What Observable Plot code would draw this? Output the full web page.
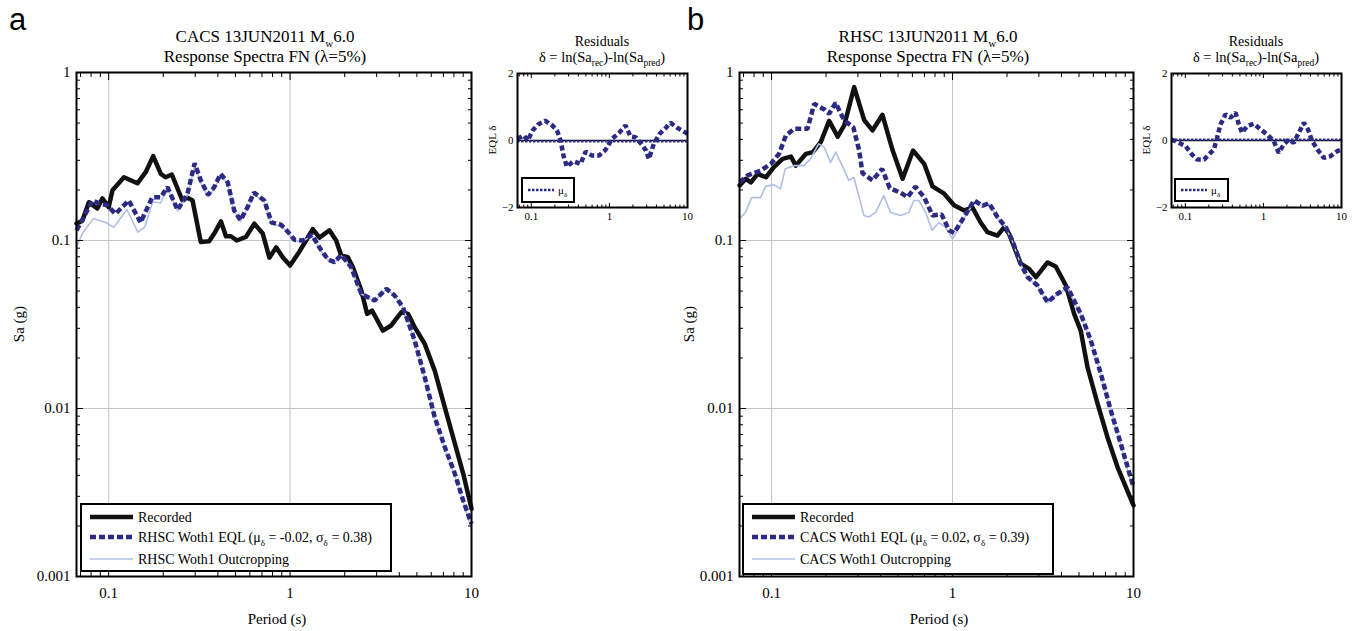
<!DOCTYPE html>
<html><head><meta charset="utf-8">
<script src="https://cdn.jsdelivr.net/npm/d3@7"></script>
<script src="https://cdn.jsdelivr.net/npm/@observablehq/plot@0.6"></script>
<style>
body{margin:0;background:#fff;}
#chart{position:relative;width:1359px;height:631px;overflow:hidden;font-family:"Liberation Serif",serif;}
#chart > svg{position:absolute;overflow:visible;}
</style></head><body><div id="chart"></div>
<script>
// ---------- ticks ----------
const xMajorTicks = [0.1, 1, 10];
const xMinorTicks = [0.07,0.08,0.09,0.2,0.3,0.4,0.5,0.6,0.7,0.8,0.9,2,3,4,5,6,7,8,9];
const yMajorTicks = [0.001, 0.01, 0.1, 1];
const yMinorTicks = [0.002,0.003,0.004,0.005,0.006,0.007,0.008,0.009,0.02,0.03,0.04,0.05,0.06,0.07,0.08,0.09,0.2,0.3,0.4,0.5,0.6,0.7,0.8,0.9];
const resYTicks = [-2, 0, 2];

// ---------- panel a : CACS ----------
const aRecT  = [0.0665,0.0716,0.0778,0.0866,0.0923,0.100,0.105,0.1215,0.144,0.160,0.176,0.194,0.206,0.223,0.255,0.272,0.290,0.322,0.358,0.382,0.416,0.443,0.472,0.509,0.571,0.635,0.707,0.769,0.838,0.911,1.0,1.103,1.225,1.334,1.452,1.648,1.795,1.914,2.08,2.22,2.47,2.66,2.83,3.25,3.61,4.10,4.47,4.86,5.52,6.27,7.12,8.09,9.0,10.0];
const aRecSa = [0.126,0.131,0.169,0.155,0.178,0.158,0.199,0.238,0.219,0.255,0.318,0.249,0.238,0.247,0.173,0.180,0.173,0.098,0.099,0.110,0.130,0.106,0.106,0.100,0.105,0.126,0.110,0.079,0.091,0.0796,0.071,0.083,0.100,0.117,0.104,0.115,0.100,0.0814,0.0796,0.0694,0.0504,0.0366,0.0383,0.0291,0.0312,0.0374,0.0366,0.0305,0.0243,0.0168,0.0102,0.0062,0.0041,0.00253];
const aEqlT  = [0.0665,0.073,0.0813,0.0903,0.0985,0.109,0.129,0.150,0.174,0.194,0.211,0.240,0.272,0.298,0.322,0.353,0.382,0.414,0.453,0.492,0.533,0.583,0.632,0.721,0.790,0.892,0.971,1.057,1.175,1.320,1.46,1.62,1.757,1.914,2.17,2.47,2.92,3.39,3.77,4.19,4.86,5.52,6.27,7.12,8.09,9.0,10.0];
const aEqlSa = [0.115,0.138,0.173,0.165,0.162,0.144,0.173,0.128,0.181,0.181,0.208,0.152,0.190,0.288,0.228,0.187,0.208,0.249,0.222,0.151,0.132,0.158,0.193,0.173,0.128,0.124,0.113,0.101,0.100,0.108,0.090,0.077,0.0743,0.082,0.0694,0.0482,0.0439,0.0516,0.0471,0.0401,0.0254,0.0154,0.00888,0.0059,0.0041,0.00283,0.00206];
const aOutT  = [0.0665,0.0716,0.0823,0.0962,0.107,0.126,0.145,0.158,0.175,0.193,0.211,0.240,0.272,0.298,0.322,0.353,0.382,0.414,0.453,0.492,0.533,0.583,0.632,0.721,0.790,0.892,0.971,1.057,1.175,1.320,1.46,1.62,1.757,1.914,2.17,2.47,2.92,3.39,3.77,4.19,4.86,5.52,6.27,7.12,8.09,9.0,10.0];
const aOutSa = [0.091,0.110,0.135,0.128,0.120,0.153,0.112,0.120,0.170,0.167,0.205,0.150,0.186,0.280,0.222,0.181,0.203,0.243,0.218,0.149,0.130,0.155,0.189,0.170,0.126,0.122,0.111,0.099,0.099,0.107,0.089,0.076,0.0738,0.081,0.069,0.048,0.0436,0.0513,0.047,0.040,0.0253,0.0153,0.0088,0.0058,0.0040,0.0028,0.0019];
const aResT  = [0.0665,0.080,0.090,0.104,0.122,0.150,0.185,0.213,0.237,0.258,0.285,0.345,0.427,0.497,0.600,0.735,0.890,1.08,1.32,1.61,1.86,2.16,2.55,2.95,3.2,3.7,4.4,5.3,6.05,7.4,9.2,10.0];
const aResV  = [0.05,0.15,0.0,0.3,0.48,0.59,0.45,0.3,0.0,-0.45,-0.78,-0.62,-0.7,-0.33,-0.45,-0.45,-0.28,0.05,0.22,0.45,0.12,0.1,-0.1,-0.3,-0.55,-0.1,0.2,0.38,0.53,0.38,0.25,0.2];
const aMu = -0.02;

// ---------- panel b : RHSC ----------
const bRecT  = [0.0666,0.0721,0.0769,0.0838,0.0931,0.103,0.115,0.128,0.136,0.155,0.169,0.187,0.208,0.232,0.252,0.286,0.325,0.361,0.410,0.467,0.530,0.605,0.697,0.775,0.899,1.02,1.159,1.29,1.43,1.56,1.77,1.93,2.05,2.38,2.65,2.89,3.35,3.72,4.23,4.70,5.11,5.57,6.33,7.18,8.16,10.0];
const bRecSa = [0.213,0.233,0.222,0.249,0.238,0.273,0.306,0.316,0.279,0.328,0.336,0.385,0.515,0.415,0.484,0.818,0.520,0.452,0.560,0.343,0.233,0.343,0.286,0.210,0.190,0.162,0.151,0.157,0.128,0.112,0.107,0.120,0.110,0.0727,0.0678,0.0605,0.0740,0.0700,0.0540,0.0366,0.0291,0.0176,0.0107,0.00675,0.00448,0.00265];
const bEqlT  = [0.0666,0.0737,0.0873,0.099,0.110,0.120,0.133,0.158,0.172,0.197,0.208,0.226,0.252,0.283,0.305,0.318,0.361,0.408,0.450,0.518,0.564,0.624,0.697,0.775,0.870,0.957,1.02,1.159,1.316,1.465,1.59,1.77,1.97,2.14,2.38,2.60,2.95,3.35,3.80,4.32,5.11,5.81,6.60,7.49,8.51,10.0];
const bEqlSa = [0.222,0.244,0.261,0.286,0.328,0.422,0.462,0.462,0.651,0.600,0.568,0.660,0.518,0.472,0.343,0.252,0.228,0.267,0.205,0.192,0.181,0.209,0.181,0.141,0.143,0.115,0.111,0.138,0.173,0.161,0.167,0.138,0.120,0.100,0.0727,0.0605,0.054,0.0429,0.0482,0.0527,0.0366,0.0254,0.0161,0.00973,0.00616,0.0034];
const bOutT  = [0.0666,0.0718,0.0776,0.087,0.0927,0.103,0.112,0.119,0.133,0.151,0.164,0.182,0.195,0.212,0.226,0.246,0.267,0.285,0.324,0.345,0.376,0.417,0.454,0.516,0.574,0.611,0.652,0.710,0.771,0.840,0.914,1.0,1.159,1.316,1.465,1.59,1.77,1.97,2.14,2.38,2.60,2.95,3.35,3.80,4.32,5.11,5.81,6.60,7.49,8.51,10.0];
const bOutSa = [0.135,0.147,0.180,0.180,0.210,0.215,0.203,0.267,0.279,0.279,0.306,0.376,0.360,0.292,0.336,0.279,0.228,0.238,0.141,0.138,0.147,0.185,0.147,0.141,0.147,0.173,0.173,0.147,0.115,0.128,0.120,0.102,0.136,0.170,0.159,0.165,0.136,0.119,0.099,0.072,0.060,0.0535,0.0425,0.048,0.052,0.036,0.025,0.016,0.0097,0.0061,0.0032];
const bResT  = [0.0665,0.0826,0.101,0.122,0.142,0.173,0.200,0.232,0.255,0.282,0.327,0.379,0.440,0.484,0.533,0.618,0.753,0.918,1.12,1.36,1.57,1.82,2.11,2.45,2.84,3.29,3.73,4.2,5.12,5.93,7.2,8.8,10.0];
const bResV  = [0.03,-0.07,-0.17,-0.42,-0.57,-0.57,-0.42,-0.27,0.08,0.48,0.78,0.68,0.83,0.48,0.23,0.43,0.5,0.33,0.18,-0.02,-0.37,-0.12,0.03,-0.07,0.23,0.53,0.33,-0.02,-0.32,-0.52,-0.47,-0.32,-0.27];
const bMu = 0.02;

// ---------- styling ----------
const REC = "#111111", EQL = "#2d2a84", OUT = "#b1bfe6", GRID = "#c4c4c4";
const SERIF = "Liberation Serif, Times New Roman, serif";

const zip = (T, V) => T.map((t, i) => ({T: t, V: V[i]}));
const chart = document.getElementById("chart");
function place(svg, left, top) { svg.style.left = left + "px"; svg.style.top = top + "px"; chart.appendChild(svg); }

function mainPlot(rec, eql, out, mL, mR) {
  const blank = () => "";
  return Plot.plot({
    width: 480, height: 631,
    marginLeft: mL, marginRight: mR, marginTop: 72, marginBottom: 55,
    x: {type: "log", domain: [0.0665, 10], label: null},
    y: {type: "log", domain: [0.001, 1], label: null},
    style: {fontFamily: SERIF, fontSize: "15px", color: "black", background: "transparent", overflow: "visible"},
    marks: [
      Plot.gridX(xMajorTicks, {stroke: GRID, strokeOpacity: 1, strokeWidth: 1}),
      Plot.gridY(yMajorTicks, {stroke: GRID, strokeOpacity: 1, strokeWidth: 1}),
      Plot.line(rec, {x: "T", y: "V", stroke: REC, strokeWidth: 4.5, strokeLinejoin: "round"}),
      Plot.line(out, {x: "T", y: "V", stroke: OUT, strokeWidth: 1.6}),
      Plot.line(eql, {x: "T", y: "V", stroke: EQL, strokeWidth: 4.5, strokeDasharray: "6,3", strokeLinecap: "butt", strokeLinejoin: "miter"}),
      Plot.axisX(xMinorTicks, {anchor: "bottom", tickSize: -4, tickFormat: blank, label: null}),
      Plot.axisX(xMinorTicks, {anchor: "top", tickSize: -4, tickFormat: blank, label: null}),
      Plot.axisX(xMajorTicks, {anchor: "bottom", tickSize: -7, tickFormat: blank, label: null}),
      Plot.axisX(xMajorTicks, {anchor: "top", tickSize: -7, tickFormat: blank, label: null}),
      Plot.axisX(xMajorTicks, {anchor: "bottom", tickSize: 0, tickPadding: 11, tickFormat: d => String(d), label: null}),
      Plot.axisY(yMinorTicks, {anchor: "left", tickSize: -4, tickFormat: blank, label: null}),
      Plot.axisY(yMinorTicks, {anchor: "right", tickSize: -4, tickFormat: blank, label: null}),
      Plot.axisY(yMajorTicks, {anchor: "left", tickSize: -7, tickFormat: blank, label: null}),
      Plot.axisY(yMajorTicks, {anchor: "right", tickSize: -7, tickFormat: blank, label: null}),
      Plot.axisY(yMajorTicks, {anchor: "left", tickSize: 0, tickPadding: 6, tickFormat: d => String(d), label: null}),
      Plot.frame({stroke: "black", strokeWidth: 2})
    ]
  });
}

function resPlot(res, mu) {
  const blank = () => "";
  return Plot.plot({
    width: 220, height: 232,
    marginLeft: 37, marginRight: 13, marginTop: 73, marginBottom: 25,
    x: {type: "log", domain: [0.0665, 10], label: null},
    y: {domain: [-2, 2], label: null},
    style: {fontFamily: SERIF, fontSize: "11px", color: "black", background: "transparent", overflow: "visible"},
    marks: [
      Plot.ruleY([0], {stroke: "black", strokeWidth: 1.5}),
      Plot.ruleY([mu], {stroke: EQL, strokeWidth: 2.5, strokeDasharray: "2.5,1.5"}),
      Plot.line(res, {x: "T", y: "V", stroke: EQL, strokeWidth: 4.5, strokeDasharray: "5,3", strokeLinecap: "butt", strokeLinejoin: "miter"}),
      Plot.axisX(xMinorTicks, {anchor: "bottom", tickSize: -2.5, tickFormat: blank, label: null}),
      Plot.axisX(xMinorTicks, {anchor: "top", tickSize: -2.5, tickFormat: blank, label: null}),
      Plot.axisX(xMajorTicks, {anchor: "bottom", tickSize: -4, tickFormat: blank, label: null}),
      Plot.axisX(xMajorTicks, {anchor: "top", tickSize: -4, tickFormat: blank, label: null}),
      Plot.axisX(xMajorTicks, {anchor: "bottom", tickSize: 0, tickPadding: 5, tickFormat: d => String(d), label: null}),
      Plot.axisY(resYTicks, {anchor: "left", tickSize: 0, tickPadding: 4, tickFormat: d => d < 0 ? "\u2212" + Math.abs(d) : String(d), label: null}),
      Plot.frame({stroke: "black", strokeWidth: 2})
    ]
  });
}

place(mainPlot(zip(aRecT, aRecSa), zip(aEqlT, aEqlSa), zip(aOutT, aOutSa), 76, 9), 0, 0);
place(resPlot(zip(aResT, aResV), aMu), 480, 0);
place(mainPlot(zip(bRecT, bRecSa), zip(bEqlT, bEqlSa), zip(bOutT, bOutSa), 77, 9), 662, 0);
place(resPlot(zip(bResT, bResV), bMu), 1134, 0);

// ---------- annotations overlay ----------
const ov = d3.create("svg").attr("width", 1359).attr("height", 631)
  .style("left", "0px").style("top", "0px").style("font-family", SERIF).style("pointer-events", "none");

function rich(x, y, parts, size, anchor = "middle", rotate = false) {
  const t = ov.append("text").attr("x", x).attr("y", y).attr("font-size", size)
    .attr("text-anchor", anchor).attr("fill", "black");
  if (rotate) t.attr("transform", `rotate(-90 ${x} ${y})`);
  let shifted = 0;
  parts.forEach(p => {
    const sub = Array.isArray(p);
    const s = sub ? p[0] : p;
    const off = Math.round(size * 0.28);
    const ts = t.append("tspan").text(s);
    if (sub) { ts.attr("font-size", size * 0.65).attr("dy", off - shifted); shifted = off; }
    else { if (shifted) ts.attr("dy", -shifted); shifted = 0; }
  });
  return t;
}

function panel(o) {
  ov.append("text").attr("x", o.lx).attr("y", 30).attr("font-family", "Liberation Sans, Arial, sans-serif")
    .attr("font-size", 31).text(o.letter);
  rich(o.tx, 42, [o.station + " 13JUN2011 M", ["w"], "6.0"], 17);
  rich(o.tx, 62, ["Response Spectra FN (\u03bb=5%)"], 17);
  rich(o.sax, 324, ["Sa (g)"], 15, "middle", true);
  rich(o.px, 624, ["Period (s)"], 15);
  // legend
  const L = o.leg;
  ov.append("rect").attr("x", L.x).attr("y", L.y).attr("width", L.w).attr("height", L.h)
    .attr("fill", "white").attr("stroke", "black").attr("stroke-width", 2);
  const sx = L.x + 9, ex = L.x + 52, tx = L.x + 57;
  const rows = [L.y + 13, L.y + 33, L.y + 55];
  ov.append("line").attr("x1", sx).attr("x2", ex).attr("y1", rows[0]).attr("y2", rows[0]).attr("stroke", REC).attr("stroke-width", 4.5);
  ov.append("line").attr("x1", sx).attr("x2", ex).attr("y1", rows[1]).attr("y2", rows[1]).attr("stroke", EQL).attr("stroke-width", 4.5).attr("stroke-dasharray", "6,3");
  ov.append("line").attr("x1", sx).attr("x2", ex).attr("y1", rows[2]).attr("y2", rows[2]).attr("stroke", OUT).attr("stroke-width", 1.6);
  rich(tx, rows[0] + 5, ["Recorded"], 14, "start");
  rich(tx, rows[1] + 5, [o.other + " Woth1 EQL (\u03bc", ["\u03b4"], " = " + o.mu + ", \u03c3", ["\u03b4"], " = " + o.sigma + ")"], 14, "start");
  rich(tx, rows[2] + 5, [o.other + " Woth1 Outcropping"], 14, "start");
  // residual inset annotations
  rich(o.rx, 46, ["Residuals"], 14);
  rich(o.rx, 62, ["\u03b4 = ln(Sa", ["rec"], ")-ln(Sa", ["pred"], ")"], 14.5);
  rich(o.eqx, 140, ["EQL \u03b4"], 11, "middle", true);
  const R = o.rleg;
  ov.append("rect").attr("x", R.x).attr("y", R.y).attr("width", R.w).attr("height", R.h)
    .attr("fill", "white").attr("stroke", "black").attr("stroke-width", 2);
  const ry = R.y + R.h / 2;
  ov.append("line").attr("x1", R.x + 6).attr("x2", R.x + 32).attr("y1", ry).attr("y2", ry)
    .attr("stroke", EQL).attr("stroke-width", 2.5).attr("stroke-dasharray", "2.5,1.5");
  rich(R.x + 36, ry + 4, ["\u03bc", ["\u03b4"]], 11, "start");
}

panel({letter: "a", lx: 9, station: "CACS", other: "RHSC", mu: "-0.02", sigma: "0.38", tx: 265, sax: 24, px: 277,
  leg: {x: 81, y: 504, w: 310, h: 67}, rx: 602, eqx: 496, rleg: {x: 522, y: 178, w: 52, h: 24}});
panel({letter: "b", lx: 687, station: "RHSC", other: "CACS", mu: "0.02", sigma: "0.39", tx: 928, sax: 694, px: 939,
  leg: {x: 743, y: 504, w: 310, h: 70}, rx: 1256, eqx: 1150, rleg: {x: 1175, y: 179, w: 53, h: 22}});

place(ov.node(), 0, 0);
</script></body></html>
